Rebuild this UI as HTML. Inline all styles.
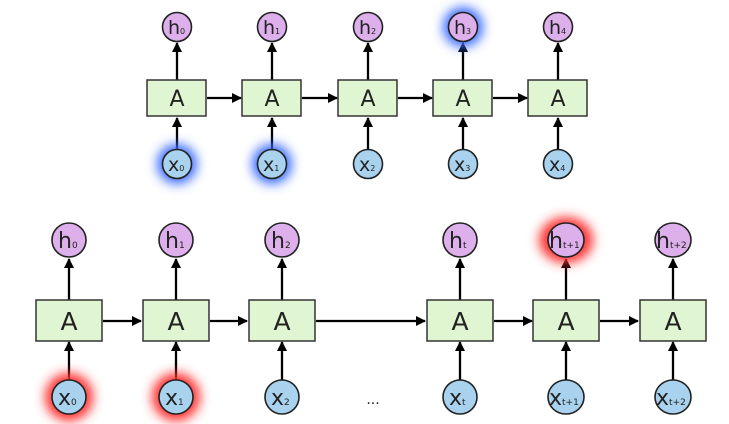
<!DOCTYPE html>
<html><head><meta charset="utf-8"><style>
html,body{margin:0;padding:0;background:#fff;}
svg{display:block;}
text{font-family:"DejaVu Sans","Liberation Sans",sans-serif;fill:#222;}
</style></head><body>
<svg width="729" height="424" viewBox="0 0 729 424" xmlns="http://www.w3.org/2000/svg">
<defs>
<filter id="blur" x="-1" y="-1" width="3" height="3"><feGaussianBlur stdDeviation="5.5"/></filter>
<marker id="ar" markerWidth="10" markerHeight="10" refX="9" refY="5" orient="auto" markerUnits="userSpaceOnUse"><path d="M0,0 L10,5 L0,10 z" fill="#000"/></marker>
</defs>
<g stroke="#000" stroke-width="2.3" fill="none" marker-end="url(#ar)">
<line x1="177" y1="149" x2="177" y2="118"/><line x1="272" y1="149" x2="272" y2="118"/><line x1="368" y1="149" x2="368" y2="118"/><line x1="463" y1="149" x2="463" y2="118"/><line x1="558" y1="149" x2="558" y2="118"/>
<line x1="177" y1="80" x2="177" y2="43"/><line x1="272" y1="80" x2="272" y2="43"/><line x1="368" y1="80" x2="368" y2="43"/><line x1="463" y1="80" x2="463" y2="43"/><line x1="558" y1="80" x2="558" y2="43"/>
<line x1="207" y1="98" x2="241" y2="98"/><line x1="302" y1="98" x2="337" y2="98"/><line x1="398" y1="98" x2="432" y2="98"/><line x1="493" y1="98" x2="527" y2="98"/>
<line x1="69" y1="380" x2="69" y2="342"/><line x1="176" y1="380" x2="176" y2="342"/><line x1="282" y1="380" x2="282" y2="342"/><line x1="460" y1="380" x2="460" y2="342"/><line x1="566" y1="380" x2="566" y2="342"/><line x1="673" y1="380" x2="673" y2="342"/>
<line x1="69" y1="300" x2="69" y2="259"/><line x1="176" y1="300" x2="176" y2="259"/><line x1="282" y1="300" x2="282" y2="259"/><line x1="460" y1="300" x2="460" y2="259"/><line x1="566" y1="300" x2="566" y2="259"/><line x1="673" y1="300" x2="673" y2="259"/>
<line x1="103" y1="321" x2="141" y2="321"/><line x1="210" y1="321" x2="247" y2="321"/><line x1="316" y1="321" x2="425" y2="321"/><line x1="494" y1="321" x2="532" y2="321"/><line x1="600" y1="321" x2="638" y2="321"/>
</g>
<circle cx="177" cy="164" r="20" fill="#3a6cff" filter="url(#blur)"/>
<circle cx="272" cy="164" r="20" fill="#3a6cff" filter="url(#blur)"/>
<circle cx="463" cy="27" r="20" fill="#3a6cff" filter="url(#blur)"/>
<circle cx="69" cy="397" r="24" fill="#ff3030" filter="url(#blur)"/>
<circle cx="176" cy="397" r="24" fill="#ff3030" filter="url(#blur)"/>
<ellipse cx="566" cy="240" rx="27" ry="23" fill="#ff3030" filter="url(#blur)"/>
<g stroke="#333" stroke-width="1.5" fill="#e0f6d2">
<rect x="147" y="80" width="59" height="36"/><rect x="242" y="80" width="59" height="36"/><rect x="338" y="80" width="59" height="36"/><rect x="433" y="80" width="59" height="36"/><rect x="528" y="80" width="59" height="36"/>
<rect x="36" y="300" width="66" height="41"/><rect x="143" y="300" width="66" height="41"/><rect x="249" y="300" width="66" height="41"/><rect x="427" y="300" width="66" height="41"/><rect x="533" y="300" width="66" height="41"/><rect x="640" y="300" width="66" height="41"/>
</g>
<g stroke="#222" stroke-width="1.6" fill="#ddb0ec">
<circle cx="177" cy="27" r="14.5"/><circle cx="272" cy="27" r="14.5"/><circle cx="368" cy="27" r="14.5"/><circle cx="463" cy="27" r="14.5"/><circle cx="558" cy="27" r="14.5"/>
<circle cx="69" cy="240" r="17"/><circle cx="176" cy="240" r="17"/><circle cx="282" cy="240" r="17"/><circle cx="460" cy="240" r="17"/><ellipse cx="566" cy="240" rx="18" ry="17"/><ellipse cx="673" cy="240" rx="18" ry="17"/>
</g>
<g stroke="#222" stroke-width="1.6" fill="#a8d2ee">
<circle cx="177" cy="164" r="14.5"/><circle cx="272" cy="164" r="14.5"/><circle cx="368" cy="164" r="14.5"/><circle cx="463" cy="164" r="14.5"/><circle cx="558" cy="164" r="14.5"/>
<circle cx="69" cy="397" r="17"/><circle cx="176" cy="397" r="17"/><circle cx="282" cy="397" r="17"/><circle cx="460" cy="397" r="17"/><ellipse cx="566" cy="397" rx="18" ry="17"/><ellipse cx="673" cy="397" rx="18" ry="17"/>
</g>
<g font-size="22" text-anchor="middle">
<text x="177" y="106">A</text><text x="272" y="106">A</text><text x="368" y="106">A</text><text x="463" y="106">A</text><text x="558" y="106">A</text>
</g>
<g font-size="25" text-anchor="middle">
<text x="69" y="330">A</text><text x="176" y="330">A</text><text x="282" y="330">A</text><text x="460" y="330">A</text><text x="566" y="330">A</text><text x="673" y="330">A</text>
</g>
<g font-size="19">
<text x="168" y="34">h<tspan font-size="8">0</tspan></text><text x="263" y="34">h<tspan font-size="8">1</tspan></text><text x="359" y="34">h<tspan font-size="8">2</tspan></text><text x="454" y="34">h<tspan font-size="8">3</tspan></text><text x="549" y="34">h<tspan font-size="8">4</tspan></text>
<text x="168" y="171">x<tspan font-size="8">0</tspan></text><text x="263" y="171">x<tspan font-size="8">1</tspan></text><text x="359" y="171">x<tspan font-size="8">2</tspan></text><text x="454" y="171">x<tspan font-size="8">3</tspan></text><text x="549" y="171">x<tspan font-size="8">4</tspan></text>
</g>
<g font-size="22">
<text x="58" y="248">h<tspan font-size="9">0</tspan></text><text x="165" y="248">h<tspan font-size="9">1</tspan></text><text x="271" y="248">h<tspan font-size="9">2</tspan></text><text x="449" y="248">h<tspan font-size="9">t</tspan></text><text x="549" y="248">h<tspan font-size="9">t+1</tspan></text><text x="656" y="248">h<tspan font-size="9">t+2</tspan></text>
<text x="58" y="405">x<tspan font-size="9">0</tspan></text><text x="165" y="405">x<tspan font-size="9">1</tspan></text><text x="271" y="405">x<tspan font-size="9">2</tspan></text><text x="449" y="405">x<tspan font-size="9">t</tspan></text><text x="549" y="405">x<tspan font-size="9">t+1</tspan></text><text x="656" y="405">x<tspan font-size="9">t+2</tspan></text>
</g>
<text x="373" y="404" font-size="14" text-anchor="middle">...</text>
</svg>
</body></html>
